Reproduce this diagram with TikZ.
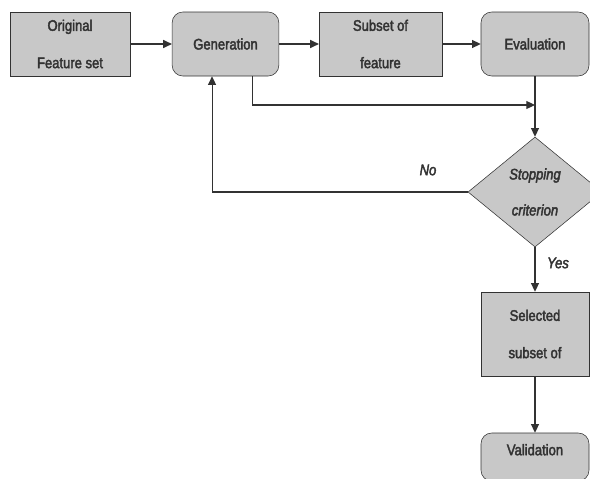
\documentclass[tikz,border=0pt]{standalone}
\usepackage{fontspec}
\setmainfont[FakeStretch=0.85,FakeBold=2.5]{Liberation Sans}
\usetikzlibrary{shapes.geometric,arrows.meta}
\definecolor{boxgray}{RGB}{200,200,200}
\definecolor{linegray}{RGB}{50,50,50}

\begin{document}
\begin{tikzpicture}[x=0.75pt,y=-0.75pt]
    \useasboundingbox (0,0) rectangle (590,479);
    \begin{scope}[every node/.style={draw=linegray,fill=boxgray,text=linegray,align=center,inner sep=0pt,minimum height=48pt,font=\fontsize{11.5}{28}\selectfont}]
        \node[minimum width=90pt] (orig) at (70,44) {Original\\Feature set};
        \node[minimum width=80pt,rounded corners=8pt] (gen) at (225.5,44) {Generation};
        \node[minimum width=92pt] (subset) at (380.5,44) {Subset of\\feature};
        \node[minimum width=81pt,rounded corners=8pt] (eval) at (535,44) {Evaluation};

        \node[diamond,minimum width=100.5pt,minimum height=82.5pt,font=\itshape\fontsize{11.5}{27}\selectfont] (stop) at (535,192) {Stopping\\criterion};

        \node[minimum width=81pt,minimum height=63pt] (sel) at (535,334) {Selected\\subset of};
        \node[minimum width=81pt,minimum height=36pt,rounded corners=8pt,text depth=11pt] (valid) at (535,457) {Validation};
    \end{scope}
    \coordinate (join) at (535,105);
    \begin{scope}[every node/.style={text=linegray,font=\itshape\fontsize{11.5}{13}\selectfont}]
        \node (no)  at (428,170) {No};
        \node (yes) at (558,263) {Yes};
    \end{scope}
    \begin{scope}[draw=linegray,line width=0.8pt,-{Triangle[length=6.5pt,width=6pt]}]
        \foreach \a/\b in {orig/gen,gen/subset,subset/eval,eval/stop,stop/sel,sel/valid} {\draw (\a)--(\b);}
        \draw ([xshift=19.9pt]gen.south) |- (join);
        \draw (stop.west) -| ([xshift=-10.1pt]gen.south);
    \end{scope}
\end{tikzpicture}
\end{document}
